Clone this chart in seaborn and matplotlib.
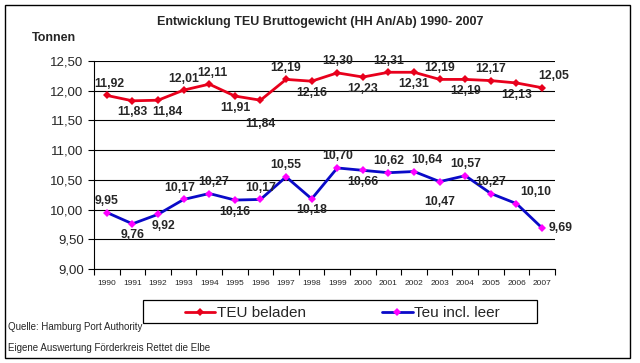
import matplotlib.pyplot as plt
import matplotlib.patches as mpatches
import seaborn as sns
import numpy as np
import pandas as pd

# --- data ---
years = [str(y) for y in range(1990, 2008)]
teu_beladen = [11.92, 11.83, 11.84, 12.01, 12.11, 11.91, 11.84, 12.19, 12.16,
               12.30, 12.23, 12.31, 12.31, 12.19, 12.19, 12.17, 12.13, 12.05]
teu_leer = [9.95, 9.76, 9.92, 10.17, 10.27, 10.16, 10.17, 10.55, 10.18,
            10.70, 10.66, 10.62, 10.64, 10.47, 10.57, 10.27, 10.10, 9.69]
y_ticks = [9.0, 9.5, 10.0, 10.5, 11.0, 11.5, 12.0, 12.5]

# label placement: 1 = above, -1 = below, 0 = right of point; plus nudges (points)
red_pos = [1, -1, -1, 1, 1, -1, -1, 1, -1, 1, -1, 1, -1, 1, -1, 1, -1, 1]
red_dx = [2, 0, 7, 0, 2, 0, 0, 0, 0, 0, 0, 0, 0, 0, 0, 0, 0, 8]
red_dy = [0, 0, 0, 0, 0, 0, -9, 0, 0, 0, 0, 0, 0, 0, 0, 0, 0, 0]
blue_pos = [1, -1, -1, 1, 1, -1, 1, 1, -1, 1, -1, 1, 1, -1, 1, 1, 1, 0]
blue_dx = [0, 0, 4, -3, 3, 0, 0, 0, 0, 0, 0, 0, 9, 0, 0, 0, 14, 0]
blue_dy = [0, 0, 0, 0, 0, 0, 0, 0, 0, 0, 0, 0, 0, -6, 0, 0, 0, 0]

df = pd.DataFrame({"idx": np.arange(len(years)), "Jahr": years,
                   "TEU beladen": teu_beladen, "Teu incl. leer": teu_leer})

sns.set_theme(style="white")
plt.rcParams['font.family'] = ['Liberation Sans', 'DejaVu Sans']

fig = plt.figure(figsize=(6.4, 3.63), dpi=100)
ax = fig.add_axes([0.147, 0.259, 0.72, 0.573])

sns.lineplot(data=df, x="idx", y="TEU beladen", ax=ax, color="#e8001c", lw=2,
             marker="D", markersize=4, markeredgewidth=0, label="TEU beladen")
sns.lineplot(data=df, x="idx", y="Teu incl. leer", ax=ax, color="#0a0ac8", lw=2,
             marker="D", markersize=4, markerfacecolor="#ff00ff",
             markeredgewidth=0, label="Teu incl. leer")

def put_labels(vals, pos, dxs, dys):
    for i, (v, p, dx, dy) in enumerate(zip(vals, pos, dxs, dys)):
        txt = f"{v:.2f}".replace(".", ",")
        if p == 1:
            off, ha, va = (dx, 4 + dy), "center", "bottom"
        elif p == -1:
            off, ha, va = (dx, -4 + dy), "center", "top"
        else:
            off, ha, va = (5 + dx, dy), "left", "center"
        ax.annotate(txt, (i, v), xytext=off, textcoords="offset points",
                    ha=ha, va=va, fontsize=8.8, fontweight="bold")

put_labels(teu_beladen, red_pos, red_dx, red_dy)
put_labels(teu_leer, blue_pos, blue_dx, blue_dy)

ax.set_xlim(-0.5, len(years) - 0.5)
ax.set_ylim(9.0, 12.5)
ax.set_yticks(y_ticks)
ax.set_yticklabels([f"{t:.2f}".replace(".", ",") for t in y_ticks], fontsize=9.5)
ax.set_xticks(np.arange(len(years)))
ax.set_xticklabels(years, fontsize=6)
ax.set_xticks(np.arange(-0.5, len(years)), minor=True)
ax.tick_params(axis="x", which="major", length=0, pad=8)
ax.tick_params(axis="x", which="minor", length=4, width=0.8, color="black",
               direction="out", bottom=True)
ax.tick_params(axis="y", length=4, width=0.8, color="black", direction="out", left=True)
ax.set_xlabel("")
ax.set_ylabel("")
ax.grid(axis="y", color="black", lw=0.8)
ax.set_axisbelow(True)
for side in ["top", "right"]:
    ax.spines[side].set_visible(False)
for side in ["left", "bottom"]:
    ax.spines[side].set_color("black")
    ax.spines[side].set_linewidth(0.8)

# legend without its own frame; the box is drawn separately to match the wide frame
leg = ax.legend(loc="center", bbox_to_anchor=(0.535, 0.137),
                bbox_transform=fig.transFigure, ncol=2, frameon=False,
                fontsize=11, handlelength=2, handletextpad=0.1,
                columnspacing=5.0)
fig.patches.append(mpatches.Rectangle((143 / 640, 1 - 323 / 363), 394 / 640, 23 / 363,
                                      transform=fig.transFigure, fill=False,
                                      edgecolor="black", lw=0.9))

fig.text(0.5, 0.94, "Entwicklung TEU Bruttogewicht (HH An/Ab) 1990- 2007",
         ha="center", va="center", fontsize=9, fontweight="bold")
fig.text(0.05, 0.895, "Tonnen", ha="left", va="center", fontsize=9, fontweight="bold")
fig.text(0.012, 0.099, "Quelle: Hamburg Port Authority", ha="left", va="center", fontsize=7)
fig.text(0.012, 0.041, "Eigene Auswertung Förderkreis Rettet die Elbe",
         ha="left", va="center", fontsize=7)

fig.patches.append(mpatches.Rectangle((0.008, 0.014), 0.977, 0.972,
                                      transform=fig.transFigure, fill=False,
                                      edgecolor="black", lw=1))

fig.savefig("out.png", dpi=100)
